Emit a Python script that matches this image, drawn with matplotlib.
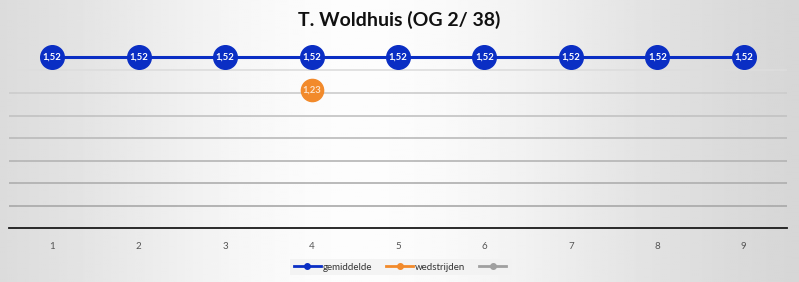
import numpy as np
import matplotlib
matplotlib.use("Agg")
import matplotlib.pyplot as plt
from matplotlib.lines import Line2D

plt.rcParams['font.family'] = ['Lato', 'DejaVu Sans']

rounds = [1, 2, 3, 4, 5, 6, 7, 8, 9]
gemiddelde = [1.52, 1.52, 1.52, 1.52, 1.52, 1.52, 1.52, 1.52, 1.52]
wedstrijden_x = [4]
wedstrijden = [1.23]
title = "T. Woldhuis (OG 2/ 38)"
series_names = ["gemiddelde", "wedstrijden", ""]

fig = plt.figure(figsize=(7.99, 2.82), dpi=100)

# background gradient
bg = fig.add_axes([0, 0, 1, 1], zorder=-10)
xs = np.linspace(0, 1, 400)
vals = 0.82 + 0.17 * np.exp(-((xs - 0.45) / 0.38) ** 2)
grad = np.tile(vals, (50, 1))
bg.imshow(grad, cmap='gray', vmin=0, vmax=1, aspect='auto', extent=[0, 1, 0, 1])
bg.axis('off')

ax = fig.add_axes([9/799, 1 - 228/282, (787 - 9)/799, (228 - 48)/282])
ax.patch.set_alpha(0)
ax.set_xlim(0.5, 9.5)
ax.set_ylim(0, 1.6)
ax.set_yticks(np.arange(0.2, 1.5, 0.2))
ax.yaxis.grid(True, lw=1.2)
grid_colors = ['#a8a8a8', '#aeaeae', '#b4b4b4', '#bababa', '#c2c2c2', '#cccccc', '#dddddd']
for gl, c in zip(ax.get_ygridlines(), grid_colors):
    gl.set_color(c)
ax.set_yticklabels([])
ax.tick_params(axis='y', length=0)
ax.tick_params(axis='x', length=0, labelsize=7, colors='#555555', pad=10)
ax.set_xticks(rounds)
for s in ['top', 'right', 'left']:
    ax.spines[s].set_visible(False)
ax.spines['bottom'].set_color('#1a1a1a')
ax.spines['bottom'].set_linewidth(1.3)

blue = '#0a2ec4'
orange = '#f28a2b'
ax.plot(rounds, gemiddelde, color=blue, lw=2.2, marker='o', ms=17,
        mfc=blue, mec=blue, zorder=3, clip_on=False)
ax.plot(wedstrijden_x, wedstrijden, color=orange, lw=2.2, marker='o', ms=16,
        mfc=orange, mec=orange, zorder=3, clip_on=False)
for x, v in zip(rounds, gemiddelde):
    ax.text(x, v, f"{v:.2f}".replace('.', ','), color='white', fontsize=6.8,
            fontweight='bold', ha='center', va='center', zorder=4)
for x, v in zip(wedstrijden_x, wedstrijden):
    ax.text(x, v, f"{v:.2f}".replace('.', ','), color='#fde2c8', fontsize=6.8,
            fontweight='bold', ha='center', va='center', zorder=4)

fig.text(0.5, 1 - 20/282, title, ha='center', va='center', fontsize=14,
         fontweight='bold', color='#111111')

handles = [
    Line2D([], [], color=blue, lw=2, marker='o', ms=4),
    Line2D([], [], color=orange, lw=2, marker='o', ms=4),
    Line2D([], [], color='#a0a0a0', lw=2, marker='o', ms=4),
]
leg = fig.legend(handles, series_names, loc='center', bbox_to_anchor=(0.502, 1 - 267/282),
                 ncol=3, fontsize=7, frameon=True, handlelength=2.8, handletextpad=0.2,
                 columnspacing=1.4, borderpad=0.35)
leg.get_frame().set_facecolor('#f2f2f2')
leg.get_frame().set_edgecolor('none')
leg.get_frame().set_alpha(0.8)
leg.get_frame().set_boxstyle('square', pad=0)
for t in leg.get_texts():
    t.set_color('#333333')

fig.savefig('out.png', dpi=100)
